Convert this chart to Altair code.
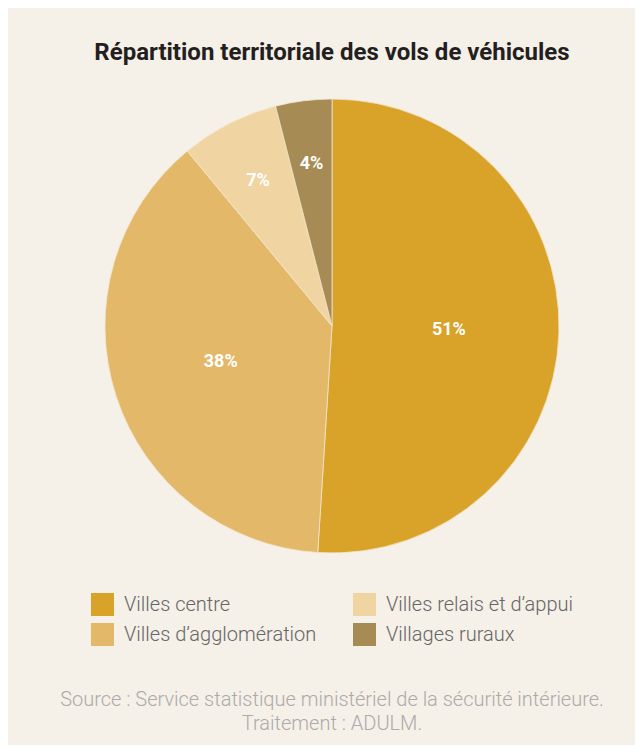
import altair as alt
import pandas as pd
import math

categories = ["Villes centre", "Villes d’agglomération", "Villes relais et d’appui", "Villages ruraux"]
values = [51, 38, 7, 4]
labels = ["51%", "38%", "7%", "4%"]
colors = ["#D9A229", "#E3B868", "#F0D4A2", "#A68B55"]
source_text = "Source : Service statistique ministériel de la sécurité intérieure.\nTraitement : ADULM."
title_text = "Répartition territoriale des vols de véhicules"

BG = "#F5F0E8"
W, H = 627, 737
CX, CY = 324, 318
R = 227

df = pd.DataFrame({"cat": categories, "value": values, "label": labels, "ord": list(range(len(categories)))})

theta_scale = alt.Scale(domain=[0, 100], range=[0, 2 * math.pi])

base = alt.Chart(df).transform_window(
    cum="sum(value)", sort=[alt.SortField("ord", order="ascending")], frame=[None, 0]
).transform_calculate(
    start="datum.cum - datum.value",
    mid="datum.cum - datum.value / 2",
    lr="datum.value > 20 ? 117 : 163",
)

arcs = base.mark_arc(radius=R, stroke="#F3E6CC", strokeWidth=0.8).encode(
    theta=alt.Theta("start:Q", scale=theta_scale, stack=None),
    theta2="cum:Q",
    color=alt.Color(
        "cat:N",
        scale=alt.Scale(domain=categories, range=colors),
        legend=alt.Legend(
            title=None,
            orient="none",
            legendX=83,
            legendY=585,
            columns=2,
            symbolType="square",
            symbolSize=529,
            symbolStrokeWidth=0,
            symbolOpacity=1,
            labelFont="Roboto",
            labelFontSize=20,
            labelFontWeight=300,
            labelColor="#666666",
            labelOffset=10,
            rowPadding=7,
            columnPadding=36,
            labelLimit=400,
        ),
    ),
    x=alt.value(CX),
    y=alt.value(CY),
)

texts = base.mark_text(
    font="Roboto", fontSize=18, fontWeight="bold", color="white", align="center", baseline="middle"
).encode(
    theta=alt.Theta("mid:Q", scale=theta_scale, stack=None),
    text="label:N",
    radius=alt.Radius("lr:Q", scale=None),
    x=alt.value(CX),
    y=alt.value(CY),
)

src = alt.Chart(pd.DataFrame({"t": [source_text]})).mark_text(
    font="Roboto", fontSize=20, fontWeight=300, color="#ABABAB", align="center",
    baseline="middle", lineBreak="\n", lineHeight=24
).encode(text="t:N", x=alt.value(CX), y=alt.value(692))

title = alt.Chart(pd.DataFrame({"t": [title_text]})).mark_text(
    font="Roboto", fontSize=24, fontWeight="bold", color="#231F20", align="center", baseline="middle"
).encode(text="t:N", x=alt.value(CX), y=alt.value(45))

chart = alt.layer(arcs, texts, src, title).properties(
    width=W, height=H, background=BG, padding=0
).configure_view(stroke=None)

chart.save("out.html", embed_options={"renderer": "svg", "actions": False})
